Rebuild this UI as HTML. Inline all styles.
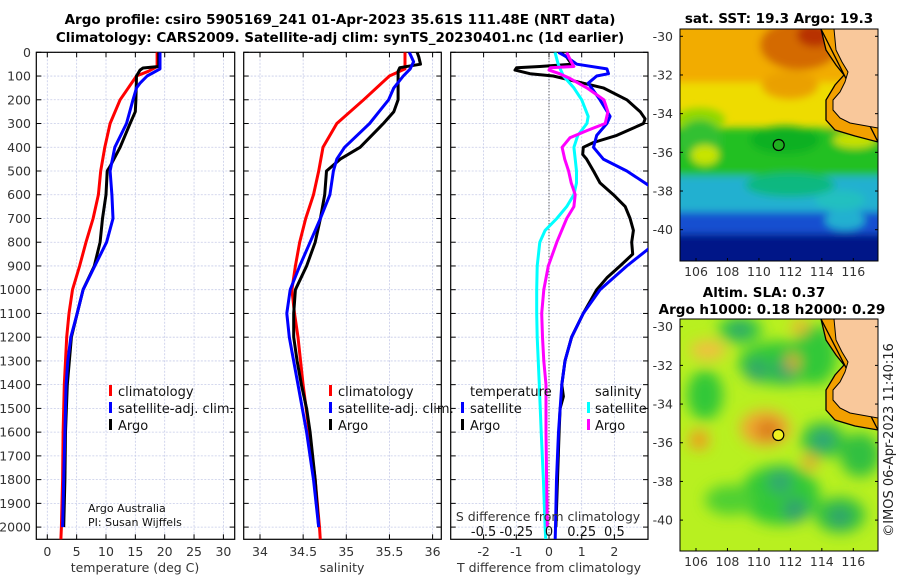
<!DOCTYPE html>
<html><head><meta charset="utf-8"><style>
html,body{margin:0;padding:0;background:#fff;}
svg{display:block;font-family:"DejaVu Sans","Liberation Sans",sans-serif;}
.t{font-size:12.5px;fill:#333;}
.b{font-weight:bold;font-size:13.5px;fill:#000;}
.lg{font-size:13px;fill:#111;}
</style></head><body>
<svg id="fig" width="900" height="580" viewBox="0 0 900 580">
<defs>
<clipPath id="c1"><rect x="36.3" y="52.3" width="198.4" height="487"/></clipPath>
<clipPath id="c2"><rect x="243.7" y="52.3" width="197.6" height="487"/></clipPath>
<clipPath id="c3"><rect x="450.7" y="52.3" width="197.3" height="487"/></clipPath>
<clipPath id="cm1"><rect x="680" y="29" width="198" height="232"/></clipPath>
<clipPath id="cm2"><rect x="680" y="319" width="198" height="232"/></clipPath>
<filter id="bl" x="-20%" y="-20%" width="140%" height="140%"><feGaussianBlur stdDeviation="4"/></filter>
<filter id="bl2" x="-30%" y="-30%" width="160%" height="160%"><feGaussianBlur stdDeviation="7"/></filter>
</defs>
<text class="b" x="340" y="24" text-anchor="middle">Argo profile: csiro 5905169_241 01-Apr-2023 35.61S 111.48E (NRT data)</text>
<text class="b" x="340" y="42" text-anchor="middle">Climatology: CARS2009. Satellite-adj clim: synTS_20230401.nc (1d earlier)</text>

<g id="grids"></g>
<g id="lines"></g>

<g>
<rect x="109" y="385" width="3" height="11" fill="#f00"/><text class="lg" x="118" y="396">climatology</text>
<rect x="109" y="402" width="3" height="11" fill="#00f"/><text class="lg" x="118" y="413">satellite-adj. clim.</text>
<rect x="109" y="419" width="3" height="11" fill="#000"/><text class="lg" x="118" y="430">Argo</text>
</g>
<g>
<rect x="329" y="385" width="3" height="11" fill="#f00"/><text class="lg" x="338" y="396">climatology</text>
<rect x="329" y="402" width="3" height="11" fill="#00f"/><text class="lg" x="338" y="413">satellite-adj. clim.</text>
<rect x="329" y="419" width="3" height="11" fill="#000"/><text class="lg" x="338" y="430">Argo</text>
</g>
<g>
<text class="lg" x="470" y="396">temperature</text>
<rect x="461" y="402" width="3" height="11" fill="#00f"/><text class="lg" x="470" y="413">satellite</text>
<rect x="461" y="419" width="3" height="11" fill="#000"/><text class="lg" x="470" y="430">Argo</text>
<text class="lg" x="595" y="396">salinity</text>
<rect x="587" y="402" width="3" height="11" fill="#0ff"/><text class="lg" x="595" y="413">satellite</text>
<rect x="587" y="419" width="3" height="11" fill="#f0f"/><text class="lg" x="595" y="430">Argo</text>
</g>
<text x="88" y="512" font-size="11" fill="#111">Argo Australia</text>
<text x="88" y="526" font-size="11" fill="#111">PI: Susan Wijffels</text>
<text class="t" x="548" y="521" text-anchor="middle" font-size="13" fill="#111">S difference from climatology</text>
<g id="sticks"></g>

<text class="t" x="135" y="572" text-anchor="middle" font-size="13">temperature (deg C)</text>
<text class="t" x="342" y="572" text-anchor="middle" font-size="13">salinity</text>
<text class="t" x="549" y="572" text-anchor="middle" font-size="13">T difference from climatology</text>

<!-- SST map -->
<g clip-path="url(#cm1)">
<rect x="680" y="29" width="198" height="232" fill="#eedc00"/>
<g filter="url(#bl)">
<rect x="670" y="20" width="220" height="62" fill="#f2ac00"/>
<ellipse cx="800" cy="45" rx="40" ry="25" fill="#d46a00"/>
<ellipse cx="815" cy="35" rx="18" ry="12" fill="#b83000"/>
<ellipse cx="790" cy="85" rx="28" ry="14" fill="#eaa000"/>
<ellipse cx="845" cy="135" rx="30" ry="10" fill="#f0a000"/>
<ellipse cx="700" cy="120" rx="25" ry="12" fill="#90d800"/>
<rect x="670" y="128" width="220" height="48" fill="#22c020"/>
<ellipse cx="700" cy="140" rx="22" ry="20" fill="#30c030"/>
<ellipse cx="785" cy="140" rx="35" ry="14" fill="#10b020"/>
<ellipse cx="855" cy="140" rx="22" ry="8" fill="#c8e000"/>
<ellipse cx="705" cy="155" rx="14" ry="10" fill="#c8e400"/>
<rect x="670" y="176" width="220" height="36" fill="#20b0d0"/>
<ellipse cx="790" cy="185" rx="45" ry="12" fill="#10b880"/>
<ellipse cx="840" cy="200" rx="25" ry="10" fill="#20c0c0"/>
<rect x="670" y="212" width="220" height="22" fill="#1850d0"/>
<ellipse cx="845" cy="220" rx="20" ry="10" fill="#20b0d0"/>
<rect x="670" y="234" width="220" height="35" fill="#001888"/>
</g>
<polygon points="821,29 826,50 836,65 844,75 835,85 826,100 826,120 835,130 855,136 878,142 878,29" fill="#f2a000"/>
<polygon points="821,29 826,50 836,65 844,75 835,85 826,100 826,120 835,130 855,136 878,142" fill="none" stroke="#000" stroke-width="1.3"/>
<polygon points="834,29 836,50 842,62 848,72 845,82 840,92 833,100 833,110 840,118 850,123 878,128 878,29" fill="#f9c89b" stroke="#000" stroke-width="1"/>
<circle cx="778.7" cy="145" r="5.5" fill="#20b020" stroke="#000" stroke-width="1.2"/>
</g>
<rect x="680" y="29" width="198" height="232" fill="none" stroke="#000" stroke-width="1"/>
<text class="b" x="779" y="23" text-anchor="middle">sat. SST: 19.3 Argo: 19.3</text>

<!-- SLA map -->
<g clip-path="url(#cm2)">
<rect x="680" y="319" width="198" height="232" fill="#b8f020"/>
<g filter="url(#bl2)">
<ellipse cx="740" cy="330" rx="22" ry="14" fill="#30c840"/>
<ellipse cx="740" cy="330" rx="10" ry="7" fill="#30a070"/>
<ellipse cx="783" cy="363" rx="45" ry="22" fill="#30c838"/>
<ellipse cx="757" cy="370" rx="12" ry="12" fill="#30a868"/>
<ellipse cx="785" cy="370" rx="12" ry="12" fill="#30a868"/>
<ellipse cx="815" cy="355" rx="22" ry="30" fill="#30c838"/>
<ellipse cx="793" cy="362" rx="6" ry="8" fill="#f0a030"/>
<ellipse cx="800" cy="327" rx="8" ry="8" fill="#f0b030"/>
<ellipse cx="705" cy="395" rx="18" ry="25" fill="#30c838"/>
<ellipse cx="708" cy="350" rx="18" ry="10" fill="#f0c040"/>
<ellipse cx="765" cy="428" rx="25" ry="18" fill="#f0a830"/>
<ellipse cx="768" cy="430" rx="12" ry="10" fill="#d87818"/>
<ellipse cx="699" cy="440" rx="10" ry="10" fill="#f09a20"/>
<ellipse cx="810" cy="462" rx="7" ry="8" fill="#f0a030"/>
<ellipse cx="823" cy="440" rx="22" ry="18" fill="#30c040"/>
<ellipse cx="823" cy="440" rx="10" ry="9" fill="#30a080"/>
<ellipse cx="860" cy="455" rx="20" ry="22" fill="#30c040"/>
<ellipse cx="780" cy="495" rx="40" ry="30" fill="#30c838"/>
<ellipse cx="780" cy="482" rx="12" ry="12" fill="#30a870"/>
<ellipse cx="795" cy="510" rx="12" ry="12" fill="#30a070"/>
<ellipse cx="840" cy="515" rx="25" ry="18" fill="#30c040"/>
<ellipse cx="840" cy="517" rx="10" ry="10" fill="#30a070"/>
<ellipse cx="730" cy="500" rx="25" ry="15" fill="#50d030"/>
</g>
<polygon points="821,319 826,340 836,355 844,365 835,375 826,390 826,410 835,420 855,426 878,430 878,319" fill="#f2a000"/>
<polygon points="821,319 826,340 836,355 844,365 835,375 826,390 826,410 835,420 855,426 878,430" fill="none" stroke="#000" stroke-width="1.3"/>
<polygon points="834,319 836,340 842,352 848,362 845,372 840,382 833,390 833,400 840,408 850,413 878,418 878,319" fill="#f9c89b" stroke="#000" stroke-width="1"/>
<circle cx="778.3" cy="435" r="5.5" fill="#f0f020" stroke="#000" stroke-width="1.2"/>
</g>
<rect x="680" y="319" width="198" height="232" fill="none" stroke="#000" stroke-width="1"/>
<text class="b" x="764" y="297" text-anchor="middle">Altim. SLA: 0.37</text>
<text class="b" x="772" y="314" text-anchor="middle">Argo h1000: 0.18 h2000: 0.29</text>
<text x="893" y="440" font-size="13" fill="#222" text-anchor="middle" transform="rotate(-90 893 440)">©IMOS 06-Apr-2023 11:40:16</text>
<g id="mapaxes"></g>
</svg>
<script>
// ---------- data ----------
const depthTicks = [0,100,200,300,400,500,600,700,800,900,1000,1100,1200,1300,1400,1500,1600,1700,1800,1900,2000];
const tempTicks = [0,5,10,15,20,25,30];
const salTicks = [34,34.5,35,35.5,36];
const salTickLabels = ["34","34.5","35","35.5","36"];
const dTTicks = [-2,-1,0,1,2];
const dSTicks = [-0.5,-0.25,0,0.25,0.5];
const dSTickLabels = ["-0.5","-0.25","0","0.25","0.5"];

const tClimDepth = [0,60,80,100,200,300,400,500,600,700,800,900,1000,1100,1200,1300,1400,1600,1800,2000,2060];
const tClimVal   = [18.7,18.7,17.2,15.2,12.4,10.7,9.8,9.1,8.7,7.8,6.6,5.5,4.3,3.7,3.3,3.1,2.9,2.7,2.6,2.4,2.3];
const tSatDepth = [0,70,100,130,150,200,300,400,500,600,700,800,900,1000,1100,1200,1300,1400,1600,1800,2000];
const tSatVal   = [19.2,19.2,17.0,15.8,15.2,14.6,13.5,11.5,10.7,11.0,11.2,10.1,8.1,6.1,5.1,4.0,3.5,3.2,3.0,2.8,2.6];
const tArgoDepth = [0,60,66,75,100,200,250,300,400,480,500,600,700,800,900,1000,1100,1200,1400,1600,1800,2000];
const tArgoVal   = [19.0,19.0,16.3,15.8,15.2,15.1,15.0,14.1,12.4,10.7,10.2,10.0,9.4,9.0,8.0,6.1,5.1,4.1,3.4,3.1,3.0,2.8];

const sClimDepth = [0,70,100,200,300,400,500,600,700,800,900,1000,1100,1200,1400,1600,1800,2000,2060];
const sClimVal   = [35.68,35.68,35.5,35.2,34.89,34.73,34.68,34.62,34.53,34.46,34.41,34.37,34.4,34.44,34.5,34.57,34.64,34.69,34.7];
const sSatDepth = [0,40,70,100,150,200,300,400,450,500,600,700,800,900,1000,1100,1200,1400,1600,1800,2000];
const sSatVal   = [35.73,35.78,35.74,35.66,35.55,35.49,35.27,34.98,34.89,34.85,34.81,34.7,34.58,34.46,34.35,34.31,34.34,34.44,34.54,34.62,34.68];
const sArgoDepth = [0,20,50,65,80,200,250,300,400,450,500,600,700,800,900,1000,1100,1200,1300,1400,1500,1600,1800,2000];
const sArgoVal   = [35.82,35.84,35.86,35.62,35.6,35.6,35.55,35.43,35.16,34.93,34.77,34.75,34.7,34.64,34.54,34.41,34.39,34.39,34.43,34.48,34.54,34.58,34.64,34.68];

const dTSatDepth = [0,20,50,70,90,100,130,150,200,270,300,350,400,450,500,560,650,780,828,900,1000,1100,1200,1300,1400,1600,1800,2000,2050];
const dTSatVal   = [0.29,0.54,0.85,1.77,1.82,1.46,1.2,1.3,1.56,1.87,1.77,1.46,1.36,1.66,2.38,3.04,3.6,3.6,3.04,2.38,1.56,1.05,0.69,0.49,0.39,0.29,0.23,0.2,0.19];
const dTArgoDepth = [0,20,50,60,65,75,90,100,130,150,200,250,280,300,350,380,400,430,450,500,550,600,650,700,750,800,850,900,950,1000,1100,1200,1300,1400,1450,1500,1600,1800,2000];
const dTArgoVal   = [0.34,0.54,0.69,-0.28,-0.99,-1.04,-0.58,0.13,1.05,1.66,2.38,2.79,2.94,2.89,2.07,1.36,1.05,1.03,1.15,1.36,1.56,1.97,2.33,2.48,2.58,2.53,2.56,2.17,1.77,1.46,1.05,0.69,0.49,0.39,0.44,0.34,0.31,0.26,0.21];
const dSSatDepth = [0,50,100,150,200,270,300,350,400,450,500,550,600,650,700,750,800,900,1000,1100,1200,1400,1600,1800,2000,2050];
const dSSatVal   = [0.046,0.07,0.11,0.19,0.25,0.3,0.29,0.22,0.19,0.2,0.21,0.21,0.19,0.135,0.06,-0.03,-0.07,-0.09,-0.094,-0.094,-0.09,-0.074,-0.06,-0.043,-0.03,-0.025];
const dSArgoDepth = [0,40,60,65,75,90,110,150,200,250,300,330,360,400,450,500,550,600,650,700,800,900,1000,1100,1200,1300,1400,1600,1800,2000];
const dSArgoVal   = [0.135,0.17,0.19,0.01,0,0.08,0.16,0.29,0.42,0.45,0.43,0.29,0.16,0.1,0.12,0.15,0.17,0.2,0.19,0.135,0.06,-0.005,-0.04,-0.056,-0.05,-0.04,-0.023,-0.023,-0.018,-0.013];

const latTicks = [-30,-32,-34,-36,-38,-40];
const lonTicks = [106,108,110,112,114,116];

// ---------- scales ----------
const yD = d => 52.3 + d*0.2374;
const xT = v => 47.3 + v*5.87;
const xS = v => 260 + (v-34)*86.3;
const xdT = v => 549 + v*32.7;
const xdS = v => 549 + v*130.8;
const NS = "http://www.w3.org/2000/svg";
function mk(tag, attrs, parent){ const e=document.createElementNS(NS,tag); for(const k in attrs) e.setAttribute(k,attrs[k]); parent.appendChild(e); return e; }

const grids = document.getElementById('grids');
const lines = document.getElementById('lines');
const panels = [
 {x0:36.3,x1:234.7,clip:'c1',ticks:tempTicks,labels:tempTicks.map(String),fx:xT,name:'temperature'},
 {x0:243.7,x1:441.3,clip:'c2',ticks:salTicks,labels:salTickLabels,fx:xS,name:'salinity'},
 {x0:450.7,x1:648,clip:'c3',ticks:dTTicks,labels:dTTicks.map(String),fx:xdT,name:'difference'}
];
const Y0=52.3, Y1=539.3;
panels.forEach((p,i)=>{
  const g = mk('g',{},grids);
  
  
  depthTicks.forEach(d=>{
    mk('line',{x1:p.x0,x2:p.x1,y1:yD(d),y2:yD(d),stroke:'#c6cbe8','stroke-width':0.8,'stroke-dasharray':'2,1.5'},g);
    mk('line',{x1:p.x0,x2:p.x0+5,y1:yD(d),y2:yD(d),stroke:'#000','stroke-width':1},g);
    mk('line',{x1:p.x1-5,x2:p.x1,y1:yD(d),y2:yD(d),stroke:'#000','stroke-width':1},g);
    if(i===0){ const t=mk('text',{x:31,y:yD(d)+4.5,'text-anchor':'end',class:'t'},g); t.textContent=d; }
  });
  p.ticks.forEach((v,j)=>{
    const x=p.fx(v);
    mk('line',{x1:x,x2:x,y1:Y0,y2:Y1,stroke:'#c6cbe8','stroke-width':0.8,'stroke-dasharray':'2,1.5'},g);
    mk('line',{x1:x,x2:x,y1:Y1-5,y2:Y1,stroke:'#000','stroke-width':1},g);
    mk('line',{x1:x,x2:x,y1:Y0,y2:Y0+5,stroke:'#000','stroke-width':1},g);
    const t=mk('text',{x:x,y:556,'text-anchor':'middle',class:'t'},g); t.textContent=p.labels[j];
  });
  mk('rect',{x:p.x0,y:Y0,width:p.x1-p.x0,height:Y1-Y0,fill:'none',stroke:'#000','stroke-width':1.2},g);
});
mk('line',{x1:xdT(0),x2:xdT(0),y1:Y0,y2:Y1,stroke:'#333','stroke-width':1,'stroke-dasharray':'1,2'},grids);

const st = document.getElementById('sticks');
dSTicks.forEach((v,j)=>{ const t=mk('text',{x:xdS(v),y:536,'text-anchor':'middle','font-size':13,fill:'#111'},st); t.textContent=dSTickLabels[j]; });

function series(depths, vals, fx, color, clip, name){
  const pts = depths.map((d,k)=> fx(vals[k]).toFixed(1)+','+yD(d).toFixed(1)).join(' ');
  const pl = mk('polyline',{points:pts,fill:'none',stroke:color,'stroke-width':3,'stroke-linejoin':'round','clip-path':'url(#'+clip+')'},lines);
  
  
}
series(tClimDepth,tClimVal,xT,'#f00','c1','temperature-climatology-line');
series(tArgoDepth,tArgoVal,xT,'#000','c1','temperature-argo-line');
series(tSatDepth,tSatVal,xT,'#00f','c1','temperature-satellite-line');
series(sClimDepth,sClimVal,xS,'#f00','c2','salinity-climatology-line');
series(sArgoDepth,sArgoVal,xS,'#000','c2','salinity-argo-line');
series(sSatDepth,sSatVal,xS,'#00f','c2','salinity-satellite-line');
series(dTArgoDepth,dTArgoVal,xdT,'#000','c3','t-diff-argo-line');
series(dTSatDepth,dTSatVal,xdT,'#00f','c3','t-diff-satellite-line');
series(dSSatDepth,dSSatVal,xdS,'#0ff','c3','s-diff-satellite-line');
series(dSArgoDepth,dSArgoVal,xdS,'#f0f','c3','s-diff-argo-line');

// map axes
const ma = document.getElementById('mapaxes');
[{top:29,bot:261,lat30:36.3,latLab:276},{top:319,bot:551,lat30:326.7,latLab:566}].forEach((m,mi)=>{
  const g = mk('g',{},ma);
  
  
  latTicks.forEach(la=>{
    const y = m.lat30 + (-30-la)*19.34;
    const t=mk('text',{x:673,y:y+4.5,'text-anchor':'end',class:'t'},g); t.textContent=la;
    mk('line',{x1:680,x2:683,y1:y,y2:y,stroke:'#000'},g);
    mk('line',{x1:875,x2:878,y1:y,y2:y,stroke:'#000'},g);
  });
  lonTicks.forEach(lo=>{
    const x = 696 + (lo-106)*15.73;
    const t=mk('text',{x:x,y:m.latLab,'text-anchor':'middle',class:'t'},g); t.textContent=lo;
    mk('line',{x1:x,x2:x,y1:m.bot-3,y2:m.bot,stroke:'#000'},g);
  });
});
</script>
</body></html>
